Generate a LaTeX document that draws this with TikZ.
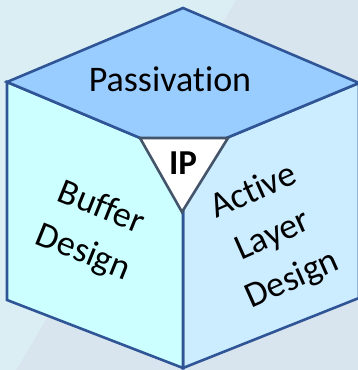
\documentclass[tikz,border=0pt]{standalone}
\usepackage{fontspec}
\setmainfont[Ligatures=NoCommon]{Carlito}
\definecolor{bgGrey}{HTML}{D9E5EE}
\definecolor{bgLight}{HTML}{DAEEF3}
\definecolor{topFace}{HTML}{99CCFF}
\definecolor{leftFace}{HTML}{CCFFFF}
\definecolor{rightFace}{HTML}{CCECFF}
\definecolor{edgeBlue}{HTML}{2F5597}
\definecolor{triEdge}{HTML}{44546A}
\begin{document}
\begin{tikzpicture}[x=1pt,y=-1pt,
  edge/.style={draw=edgeBlue,line width=2.6pt,line join=miter},
  tri/.style={draw=triEdge,fill=white,line width=2.6pt,line join=miter},
  facetext/.style={font=\fontsize{36}{48}\selectfont,align=center,inner sep=0pt}]
\useasboundingbox (0,0) rectangle (358,370);
% backdrop
\fill[bgGrey] (0,0) rectangle (358,370);
\fill[bgLight] (0,0) -- (236,0) -- (16,370) -- (0,370) -- cycle;
% cube corners
\coordinate (T) at (183,8);
\coordinate (L) at (7,82);
\coordinate (R) at (359,83);
\coordinate (F) at (183,156);
\coordinate (LB) at (7,300);
\coordinate (B) at (183,368);
\coordinate (RB) at (359,298);
% faces
\draw[edge,fill=rightFace] (F) -- (R) -- (RB) -- (B) -- cycle;
\draw[edge,fill=leftFace] (L) -- (F) -- (B) -- (LB) -- cycle;
\draw[edge,fill=topFace] (T) -- (R) -- (F) -- (L) -- cycle;
% centre triangle
\coordinate (ta) at (140,138);
\coordinate (tb) at (228,138);
\coordinate (tc) at (182,212);
\draw[tri] (ta) -- (tb) -- (tc) -- cycle;
% labels
\node[facetext,anchor=base] (pass) at (170,91) {Passivation};
\node[facetext,anchor=base,font=\fontsize{35}{40}\selectfont\bfseries] (ip) at (183,174) {IP};
\node[facetext,rotate=-22] (buf) at (92,231) {Buffer\\Design};
\node[facetext,rotate=24] (act) at (273,236) {Active\\Layer\\Design};
\end{tikzpicture}
\end{document}
